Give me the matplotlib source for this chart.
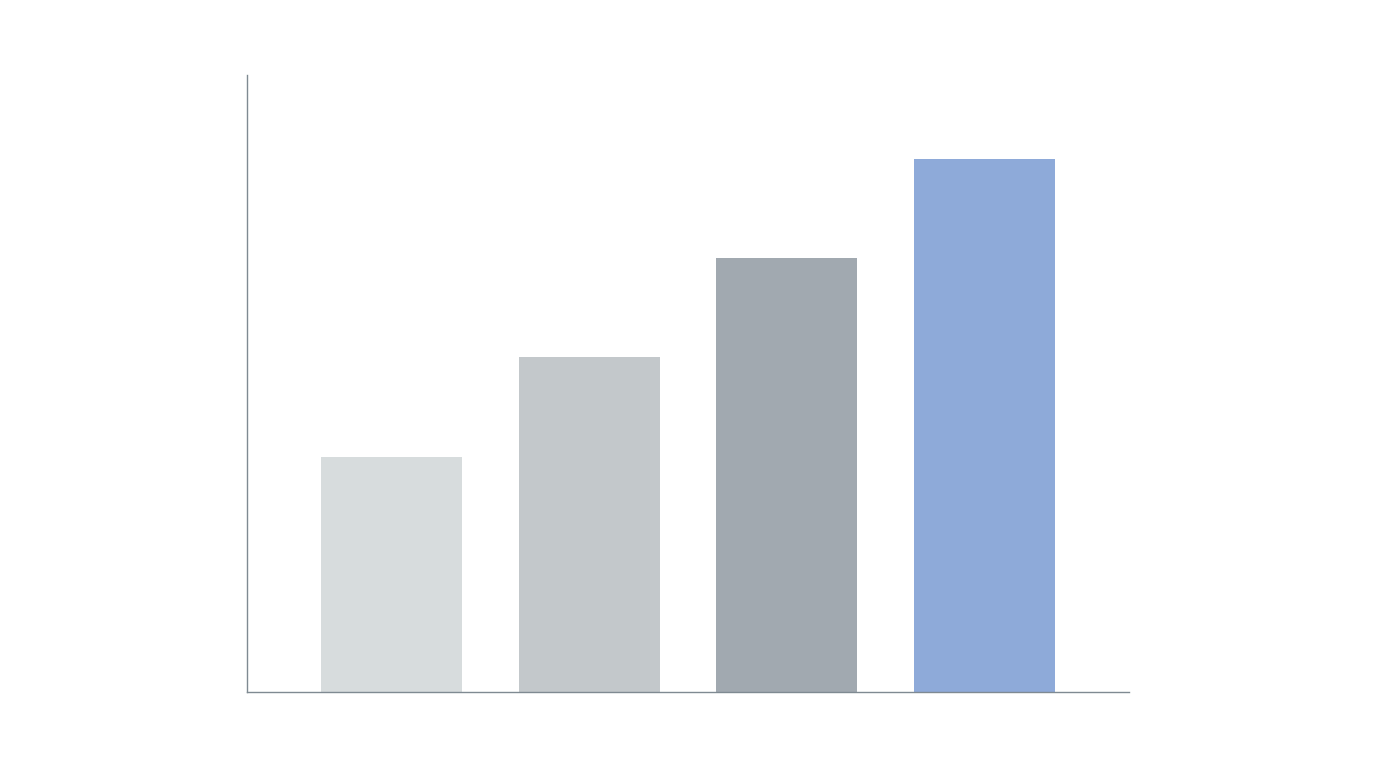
import matplotlib
matplotlib.use('Agg')
import matplotlib.pyplot as plt

# bar values (arbitrary units, axis top = 6.17)
categories = ['A', 'B', 'C', 'D']
values = [2.35, 3.35, 4.34, 5.33]
colors = ['#d7dcdd', '#c3c8cb', '#a1a9b0', '#8eaad9']

fig = plt.figure(figsize=(13.76, 7.68), dpi=100)
ax = fig.add_axes([0.1795, 0.099, 0.641, 0.8034])

pos = list(range(len(categories)))
ax.bar(pos, values, width=0.714, color=colors, linewidth=0)

ax.set_xlim(-0.732, 3.734)
ax.set_ylim(0, 6.17)
ax.set_xticks([])
ax.set_yticks([])
for s in ['top', 'right']:
    ax.spines[s].set_visible(False)
for s in ['left', 'bottom']:
    ax.spines[s].set_color('#7f8a92')
    ax.spines[s].set_linewidth(1.0)

fig.savefig('out.png', dpi=100)
